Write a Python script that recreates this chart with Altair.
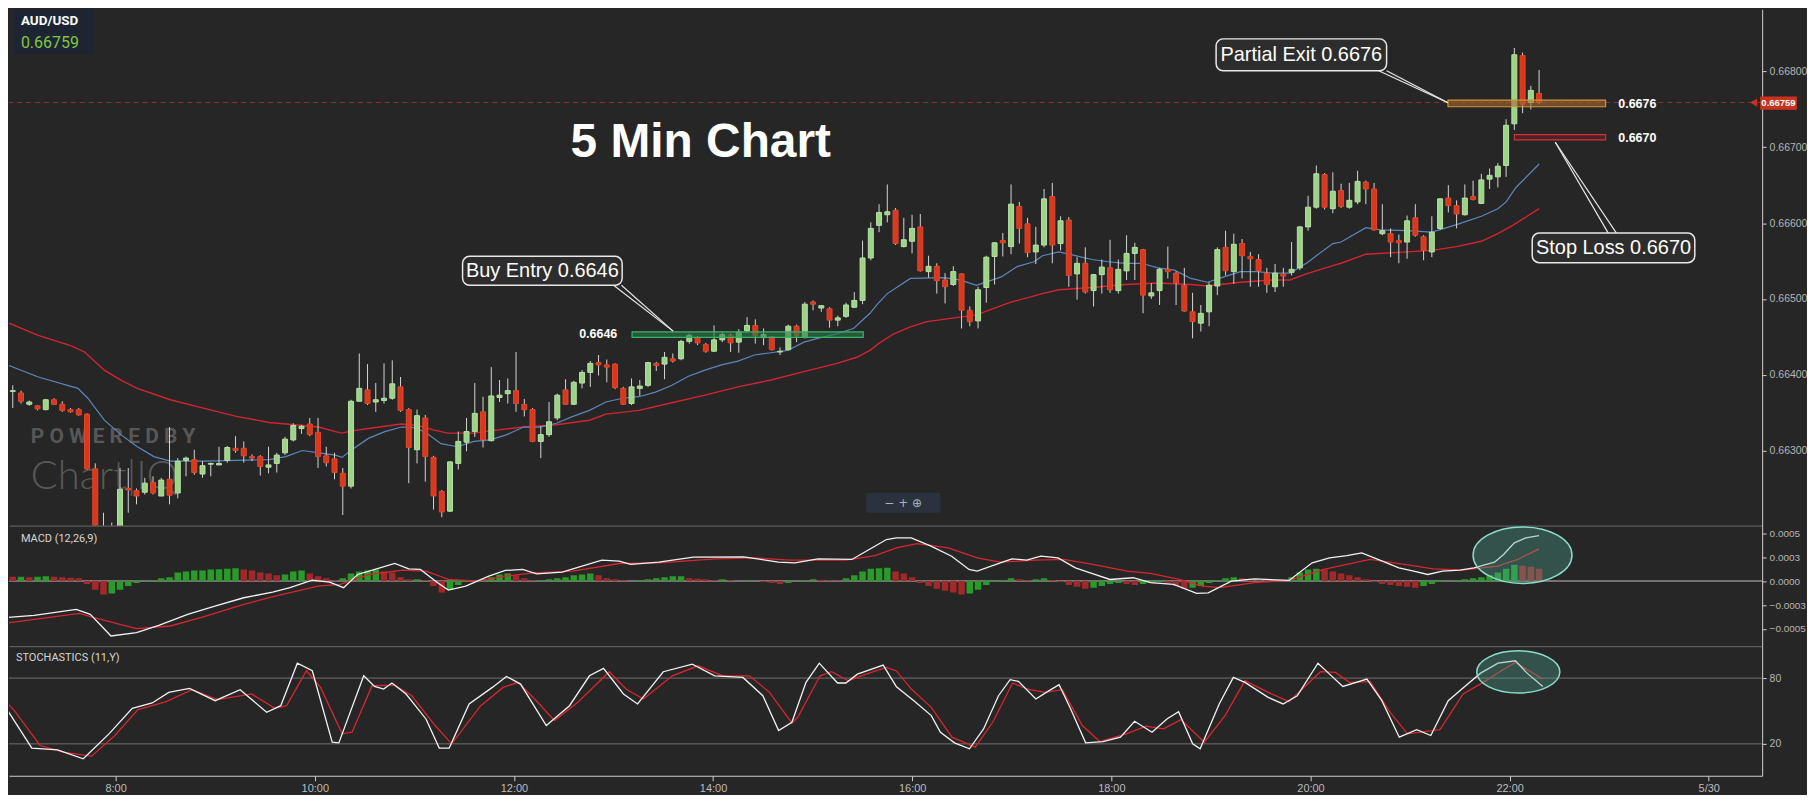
import altair as alt
import pandas as pd

# ---------------------------------------------------------------------------
# AUD/USD 5-minute candles, 29 May (first candle 06:50, one bar every 5 min)
# prices in points (1e-5)
# ---------------------------------------------------------------------------
FIRST_HOUR = 6 + 50 / 60
BAR_HOURS = 5 / 60

open_pts = [
    66362, 66378, 66376, 66361, 66359, 66354, 66367, 66361, 66354, 66354,
    66348, 66276, 66175, 66195, 66190, 66250, 66247, 66245, 66258, 66240,
    66262, 66244, 66287, 66288, 66269, 66282, 66281, 66287, 66303, 66303,
    66292, 66292, 66278, 66283, 66297, 66314, 66329, 66335, 66324, 66293,
    66289, 66270, 66253, 66365, 66380, 66364, 66366, 66369, 66384, 66354,
    66301, 66343, 66291, 66246, 66220, 66283, 66311, 66325, 66351, 66313,
    66370, 66375, 66379, 66361, 66354, 66312, 66321, 66343, 66380, 66361,
    66389, 66403, 66416, 66413, 66414, 66382, 66362, 66382, 66386, 66415,
    66414, 66421, 66421, 66444, 66449, 66440, 66431, 66446, 66452, 66443,
    66458, 66465, 66449, 66450, 66430, 66433, 66464, 66449, 66496, 66488,
    66487, 66472, 66477, 66489, 66498, 66554, 66597, 66611, 66617, 66569,
    66576, 66595, 66536, 66543, 66525, 66519, 66533, 66485, 66471, 66515,
    66556, 66577, 66569, 66622, 66599, 66562, 66571, 66635, 66573, 66604,
    66533, 66547, 66511, 66532, 66541, 66511, 66537, 66560, 66565, 66504,
    66511, 66539, 66534, 66518, 66483, 66468, 66483, 66517, 66568, 66536,
    66573, 66556, 66552, 66534, 66516, 66533, 66535, 66541, 66595, 66621,
    66664, 66619, 66643, 66621, 66628, 66654, 66645, 66586, 66586, 66577,
    66575, 66607, 66582, 66562, 66593, 66633, 66623, 66611, 66635, 66626,
    66658, 66661, 66676, 66731, 66821, 66759, 66771,
]
high_pts = [
    66384, 66386, 66379, 66366, 66360, 66368, 66369, 66365, 66356, 66356,
    66349, 66283, 66218, 66205, 66277, 66277, 66250, 66264, 66266, 66264,
    66331, 66290, 66292, 66301, 66286, 66284, 66305, 66306, 66319, 66312,
    66295, 66294, 66305, 66297, 66318, 66336, 66334, 66343, 66343, 66305,
    66297, 66277, 66367, 66428, 66414, 66389, 66415, 66419, 66397, 66356,
    66354, 66347, 66293, 66248, 66286, 66325, 66343, 66389, 66371, 66410,
    66393, 66395, 66430, 66368, 66356, 66332, 66364, 66375, 66394, 66392,
    66406, 66418, 66426, 66420, 66415, 66384, 66395, 66393, 66417, 66417,
    66430, 66428, 66446, 66454, 66451, 66442, 66465, 66456, 66454, 66460,
    66476, 66473, 66461, 66451, 66436, 66466, 66466, 66496, 66498, 66492,
    66489, 66478, 66495, 66509, 66577, 66601, 66625, 66651, 66620, 66607,
    66611, 66612, 66557, 66547, 66534, 66543, 66534, 66490, 66516, 66557,
    66575, 66587, 66651, 66628, 66607, 66595, 66645, 66653, 66609, 66608,
    66555, 66568, 66533, 66552, 66578, 66552, 66584, 66574, 66566, 66521,
    66541, 66569, 66536, 66541, 66508, 66492, 66522, 66568, 66590, 66586,
    66579, 66562, 66559, 66541, 66546, 66541, 66575, 66596, 66636, 66676,
    66666, 66667, 66652, 66653, 66669, 66656, 66653, 66625, 66593, 66585,
    66610, 66625, 66584, 66609, 66633, 66650, 66630, 66651, 66656, 66665,
    66672, 66679, 66737, 66831, 66825, 66781, 66802,
]
low_pts = [
    66356, 66356, 66362, 66359, 66353, 66353, 66360, 66351, 66350, 66346,
    66275, 66160, 66165, 66175, 66185, 66218, 66229, 66242, 66242, 66240,
    66229, 66237, 66266, 66268, 66264, 66266, 66281, 66284, 66297, 66284,
    66286, 66267, 66270, 66271, 66294, 66312, 66322, 66319, 66277, 66279,
    66262, 66215, 66250, 66365, 66360, 66351, 66362, 66367, 66351, 66257,
    66283, 66259, 66222, 66212, 66219, 66275, 66299, 66318, 66304, 66312,
    66364, 66362, 66351, 66345, 66311, 66290, 66318, 66340, 66360, 66360,
    66382, 66384, 66399, 66390, 66381, 66360, 66360, 66372, 66384, 66405,
    66394, 66416, 66419, 66441, 66439, 66429, 66430, 66443, 66430, 66429,
    66456, 66441, 66439, 66432, 66426, 66432, 66443, 66448, 66485, 66483,
    66462, 66464, 66475, 66488, 66493, 66551, 66588, 66601, 66571, 66568,
    66560, 66536, 66528, 66507, 66494, 66517, 66461, 66464, 66461, 66495,
    66519, 66556, 66559, 66573, 66555, 66546, 66568, 66547, 66564, 66516,
    66499, 66507, 66490, 66507, 66508, 66507, 66525, 66525, 66481, 66500,
    66492, 66527, 66492, 66483, 66448, 66457, 66464, 66505, 66531, 66520,
    66527, 66516, 66516, 66508, 66509, 66516, 66531, 66538, 66590, 66619,
    66618, 66613, 66620, 66619, 66625, 66625, 66590, 66584, 66555, 66547,
    66553, 66582, 66551, 66555, 66591, 66614, 66593, 66610, 66630, 66625,
    66645, 66647, 66661, 66723, 66745, 66750, 66757,
]
close_pts = [
    66379, 66379, 66365, 66364, 66355, 66367, 66361, 66353, 66351, 66347,
    66276, 66180, 66195, 66190, 66249, 66248, 66240, 66257, 66244, 66261,
    66241, 66286, 66290, 66271, 66280, 66283, 66283, 66304, 66300, 66293,
    66290, 66279, 66281, 66294, 66315, 66333, 66332, 66321, 66292, 66284,
    66271, 66253, 66365, 66382, 66362, 66367, 66369, 66388, 66353, 66304,
    66346, 66292, 66240, 66219, 66285, 66312, 66325, 66349, 66314, 66372,
    66373, 66379, 66362, 66354, 66312, 66321, 66338, 66373, 66361, 66390,
    66403, 66415, 66413, 66410, 66383, 66361, 66384, 66385, 66416, 66412,
    66423, 66418, 66444, 66452, 66442, 66431, 66446, 66453, 66442, 66456,
    66465, 66452, 66453, 66433, 66431, 66464, 66452, 66493, 66493, 66491,
    66472, 66475, 66492, 66498, 66554, 66593, 66614, 66615, 66573, 66578,
    66593, 66537, 66543, 66524, 66516, 66536, 66485, 66470, 66512, 66555,
    66574, 66574, 66625, 66593, 66561, 66571, 66632, 66571, 66603, 66531,
    66547, 66509, 66532, 66542, 66512, 66539, 66560, 66568, 66505, 66508,
    66539, 66536, 66521, 66484, 66470, 66481, 66518, 66565, 66537, 66572,
    66557, 66553, 66537, 66519, 66534, 66530, 66539, 66595, 66621, 66665,
    66621, 66642, 66622, 66630, 66655, 66645, 66591, 66590, 66575, 66574,
    66603, 66584, 66564, 66588, 66632, 66623, 66612, 66633, 66631, 66657,
    66663, 66675, 66729, 66822, 66757, 66775, 66759,
]

# moving averages: (bar index, price points)
ma_fast_bar = [0.1, 4.1, 8.9, 10.1, 12.1, 14.1, 16.1, 18.1, 20.1, 24.1, 28.1, 32.1, 34.1, 36.1,
               38.1, 40.1, 40.9, 42.1, 44.1, 46.1, 48.1, 49.3, 50.9, 52.9, 54.9, 56.9, 58.9,
               60.9, 62.9, 64.9, 66.9, 68.9, 70.9, 72.9, 74.9, 76.9, 78.9, 80.9, 82.9, 84.9,
               86.9, 88.9, 90.9, 92.9, 94.9, 96.9, 98.9, 100.9, 102.9, 104.9, 105.8, 107,
               109.8, 113.8, 115.8, 117.8, 120.8, 122.8, 124.8, 125.8, 127.8, 129.8, 131.8,
               133.8, 135.8, 137.8, 139.8, 141.8, 143.8, 145.8, 147.8, 149.8, 151.8, 153.8,
               155.8, 157.8, 159, 161, 162, 165, 166.8, 170, 173, 176, 179, 181, 182, 183.2, 186]
ma_fast_pts = [66414, 66397, 66382, 66369, 66340, 66321, 66305, 66292, 66286, 66286, 66287,
               66288, 66292, 66300, 66297, 66294, 66291, 66301, 66316, 66325, 66331, 66331,
               66325, 66309, 66305, 66312, 66314, 66321, 66331, 66331, 66336, 66345, 66353,
               66364, 66369, 66371, 66377, 66386, 66398, 66406, 66413, 66418, 66426, 66429,
               66432, 66443, 66449, 66454, 66461, 66481, 66493, 66507, 66527, 66528, 66525,
               66518, 66529, 66543, 66549, 66557, 66562, 66557, 66552, 66549, 66547, 66547,
               66541, 66538, 66527, 66522, 66529, 66536, 66536, 66534, 66534, 66547, 66557,
               66573, 66575, 66594, 66591, 66590, 66588, 66598, 66609, 66619, 66628, 66647, 66678]
ma_slow_bar = [0.1, 4.1, 8.1, 9.7, 12.1, 14.1, 16.1, 20.1, 24.1, 28.1, 32.1, 36.1, 38.1, 40.1,
               40.9, 42.1, 44.1, 48.1, 50.1, 52.1, 53.7, 55.3, 56.9, 58.9, 62.9, 66.9, 70.9,
               72.9, 76.9, 80.9, 84.9, 88.9, 92.9, 96.9, 100.9, 103.3, 104.9, 105.8, 107.8,
               109.8, 111.8, 115.8, 117.8, 121.8, 125.8, 127.8, 131.8, 135.8, 139.8, 143.8,
               145.8, 149.8, 153.8, 155.8, 157.8, 161, 162, 165, 170, 173, 176, 179, 181, 182.8, 186]
ma_slow_pts = [66470, 66452, 66438, 66430, 66406, 66393, 66382, 66367, 66356, 66345, 66337,
               66333, 66331, 66325, 66323, 66326, 66329, 66335, 66333, 66327, 66323, 66323,
               66323, 66326, 66331, 66334, 66340, 66348, 66353, 66363, 66373, 66384, 66393,
               66404, 66415, 66423, 66432, 66440, 66454, 66463, 66470, 66476, 66479, 66495,
               66507, 66512, 66515, 66519, 66521, 66519, 66517, 66522, 66525, 66525, 66533,
               66544, 66547, 66559, 66562, 66564, 66569, 66576, 66586, 66597, 66619]

# MACD (12,26,9), values in 1e-4
macd_bar = [0.1, 3.6, 8.7, 10.4, 12.9, 16.0, 18.7, 22.2, 25.6, 29.0, 32.5, 34.6, 37.3, 39.4, 41.1,
            42.8, 44.9, 47.3, 49.0, 50.4, 52.5, 53.8, 55.9, 58.7, 60.7, 62.8, 64.5, 67.6, 72.4,
            74.5, 75.9, 79.3, 83.5, 89.6, 93.8, 95.8, 98.6, 102.7, 104.8, 106.9, 108.1, 109.9,
            112.3, 114.8, 116.9, 117.9, 120.7, 122.1, 123.9, 125.6, 127.7, 129.8, 131.6, 134.0,
            136.8, 138.9, 141.7, 144.5, 145.9, 148.7, 151.5, 155.7, 158.5, 160.6, 162.7, 164.5,
            167.0, 169.0, 170.8, 172.5, 174.3, 176.4, 178.1, 180.6, 181.7, 183.0, 184.4, 186]
macd_val = [-3.82, -3.58, -2.95, -3.47, -5.73, -5.38, -4.62, -3.47, -2.60, -1.74, -1.15, -0.69,
            0.10, -0.10, -0.69, 0.69, 1.22, 1.84, 1.28, 1.22, -0.17, -0.94, -0.52, 0.52, 1.11,
            1.22, 0.76, 0.94, 2.19, 2.08, 1.74, 1.98, 2.50, 2.53, 1.98, 1.91, 2.33, 2.26, 3.30,
            4.34, 4.51, 4.51, 3.65, 2.60, 1.22, 1.04, 1.91, 2.33, 2.19, 2.60, 2.43, 1.39, 0.87,
            0.17, 0.35, -0.17, -0.35, -1.28, -1.22, 0.0, 0.24, 0.07, 1.91, 2.43, 2.67, 2.95,
            2.08, 1.39, 1.04, 0.69, 1.04, 1.15, 1.39, 1.98, 2.78, 3.99, 4.51, 4.76]
signal_bar = [0.1, 9.1, 10.4, 16.0, 20.1, 24.2, 29.0, 33.2, 38.0, 40.7, 44.2, 48.3, 51.1, 53.8,
              57.3, 60.7, 64.1, 68.9, 74.5, 79.3, 86.2, 91.0, 95.2, 102.0, 105.5, 108.1, 110.6,
              114.4, 117.9, 120.7, 124.9, 128.4, 131.9, 136.1, 138.9, 142.4, 145.2, 147.3, 151.5,
              155.7, 159.9, 165.5, 169.7, 173.2, 176.7, 181.0, 183.4, 186]
signal_val = [-4.41, -3.37, -3.72, -4.97, -4.69, -3.72, -2.43, -1.49, -0.52, -0.35, 0.69, 1.15,
              1.04, 0.17, 0.0, 0.52, 0.87, 1.04, 1.84, 1.91, 2.33, 2.43, 2.19, 2.19, 2.67, 3.47,
              3.92, 3.47, 2.43, 1.98, 2.19, 2.26, 1.74, 1.04, 0.80, 0.17, -0.52, -0.69, -0.17,
              0.07, 1.22, 2.26, 1.74, 1.28, 1.15, 1.56, 2.26, 3.37]
hist_val = [
    0.5, 0.45, 0.45, 0.4, 0.45, 0.5, 0.45, 0.4, 0.35, 0.3,
    -0.3, -0.9, -1.4, -1.3, -0.9, -0.5, -0.2, 0.0, 0.1, 0.3,
    0.4, 0.9, 1.0, 1.1, 1.1, 1.2, 1.25, 1.3, 1.35, 1.2,
    1.1, 0.9, 0.8, 0.6, 0.7, 1.0, 1.1, 0.8, 0.5, 0.3,
    0.1, 0.3, 0.8, 1.0, 1.1, 1.2, 1.0, 0.9, 0.4, 0.2,
    0.2, 0.1, -0.5, -1.2, -0.9, -0.4, -0.1, 0.0, 0.2, 0.4,
    0.7, 0.8, 0.6, 0.3, 0.1, 0.1, 0.2, 0.3, 0.4, 0.6,
    0.7, 0.8, 0.6, 0.3, 0.2, 0.1, 0.0, 0.1, 0.2, 0.3,
    0.4, 0.5, 0.5, 0.3, 0.25, 0.2, 0.1, 0.2, 0.1, 0.0,
    0.05, 0.0, -0.1, -0.2, -0.3, -0.2, 0.0, 0.1, 0.2, 0.15,
    0.1, 0.05, 0.3, 0.6, 1.0, 1.3, 1.35, 1.4, 1.0, 0.8,
    0.4, -0.2, -0.5, -0.8, -1.0, -1.2, -1.4, -1.3, -0.9, -0.4,
    -0.1, 0.1, 0.3, 0.2, 0.1, 0.2, 0.3, 0.1, -0.1, -0.4,
    -0.6, -0.8, -0.7, -0.5, -0.3, -0.2, -0.3, -0.4, -0.3, -0.2,
    -0.1, -0.2, -0.5, -0.8, -0.7, -0.5, -0.2, 0.1, 0.3, 0.4,
    0.3, 0.2, 0.1, 0.05, 0.0, 0.05, 0.4, 0.9, 1.2, 1.3,
    1.2, 1.0, 0.8, 0.6, 0.4, 0.2, -0.1, -0.3, -0.4, -0.5,
    -0.6, -0.7, -0.5, -0.3, -0.1, 0.0, 0.1, 0.2, 0.3, 0.4,
    0.6, 0.9, 1.3, 1.7, 1.6, 1.5, 1.3,
]

# Stochastics (11,Y)
stk_bar = [0.1, 3.9, 7.0, 10.1, 13.2, 16.0, 18.4, 20.4, 22.9, 26.0, 29.0, 32.2, 33.9, 35.9, 37.7,
           40.1, 40.9, 43.9, 45.2, 46.3, 47.3, 49.0, 51.4, 53.0, 54.2, 56.6, 59.4, 61.1, 62.8,
           65.9, 68.7, 71.1, 72.8, 75.2, 76.9, 80.0, 83.5, 86.2, 89.6, 92.0, 93.9, 95.5, 97.2,
           98.8, 101.0, 102.0, 103.4, 106.5, 108.1, 110.2, 112.3, 113.4, 115.1, 116.9, 118.6,
           120.4, 121.8, 122.8, 124.9, 126.3, 127.7, 129.1, 130.9, 133.0, 135.1, 136.8, 138.9,
           140.7, 142.1, 143.8, 144.7, 147.0, 148.7, 150.1, 152.9, 154.7, 156.4, 158.9, 160.3,
           161.9, 164.8, 166.6, 168.7, 170.8, 172.5, 174.6, 176.7, 178.5, 180.6, 182.7, 184.1, 186]
stk_val = [60.9, 16.1, 14.5, 6.4, 29.1, 52.4, 57.3, 67.0, 70.6, 59.4, 69.4, 48.8, 54.8, 93.6,
           86.7, 21.5, 20.9, 82.1, 72.4, 70.0, 75.5, 65.5, 42.7, 16.1, 16.1, 56.4, 71.5, 81.5,
           74.5, 36.7, 54.8, 82.1, 88.8, 65.5, 56.4, 85.8, 92.7, 82.1, 80.6, 63.9, 32.1, 39.7,
           76.1, 93.6, 75.5, 75.5, 83.6, 91.8, 72.0, 59.4, 45.8, 30.6, 20.9, 15.5, 33.6, 63.9,
           78.5, 77.0, 60.9, 67.6, 73.9, 51.8, 20.9, 22.1, 26.1, 40.6, 30.6, 42.7, 49.4, 20.0,
           15.5, 56.4, 80.6, 76.1, 62.4, 56.4, 63.9, 93.6, 83.6, 72.4, 79.1, 59.4, 26.1, 33.0,
           27.6, 59.4, 73.0, 84.5, 93.6, 95.8, 84.5, 72.4]
std_bar = [0.1, 1.8, 4.9, 7.7, 11.1, 13.9, 16.7, 20.1, 23.2, 26.3, 30.4, 33.2, 34.6, 37.0, 38.7,
           41.3, 42.5, 44.9, 47.6, 49.7, 52.5, 54.5, 58.0, 60.7, 62.5, 64.5, 66.9, 69.7, 73.5,
           75.5, 77.6, 81.1, 84.2, 87.2, 90.4, 92.8, 95.5, 96.2, 98.9, 100.3, 102.3, 104.8,
           106.9, 108.1, 109.9, 112.3, 114.8, 117.6, 119.7, 122.1, 123.9, 126.0, 128.1, 130.5,
           132.6, 135.8, 138.2, 140.3, 142.4, 145.2, 147.7, 150.1, 152.9, 155.4, 159.2, 161.0,
           162.7, 165.2, 167.6, 169.7, 173.6, 176.4, 178.8, 181.0, 182.7, 186]
std_val = [63.9, 50.3, 18.5, 12.4, 8.8, 27.6, 51.2, 58.5, 69.4, 60.3, 65.5, 52.4, 54.8, 86.7,
           71.5, 29.1, 30.6, 73.0, 73.6, 63.9, 36.7, 20.0, 54.8, 71.5, 76.1, 60.9, 41.2, 57.9,
           85.8, 70.0, 60.9, 82.1, 91.2, 82.1, 82.1, 67.0, 39.1, 44.2, 82.1, 85.8, 77.6, 84.5,
           89.7, 86.5, 70.0, 53.3, 26.1, 17.0, 39.7, 75.5, 70.0, 67.0, 69.4, 36.7, 22.1, 29.1,
           36.1, 33.6, 42.1, 21.5, 45.8, 77.6, 67.0, 58.5, 85.8, 85.2, 76.1, 76.7, 48.8, 29.1,
           33.0, 65.5, 76.1, 86.7, 94.2, 79.1]

# ----------------------------- annotations ---------------------------------
last_price = 0.66759
level_label = ["0.6646", "0.6676", "0.6670"]
level_t1 = [13.172, 21.413, 22.084]
level_t2 = [15.507, 23.005, 23.005]
level_p1 = [0.664566, 0.667623, 0.667167]
level_p2 = [0.664492, 0.667535, 0.667097]
level_label_t = [12.83, 23.325, 23.325]
level_label_p = [0.664535, 0.667575, 0.667127]

callout_text = ["Buy Entry 0.6646", "Partial Exit 0.6676", "Stop Loss 0.6670"]
callout_t1 = [11.460, 19.071, 22.264]
callout_t2 = [13.072, 20.793, 23.906]
callout_p1 = [0.665562, 0.668430, 0.665868]
callout_p2 = [0.665180, 0.668009, 0.665478]
tail_base_ta = [12.985, 20.713, 23.032]
tail_base_tb = [13.065, 20.793, 23.115]
tail_base_p = [0.665180, 0.668009, 0.665868]
tail_tip_t = [13.586, 21.413, 22.497]
tail_tip_p = [0.664575, 0.667588, 0.667066]

# ------------------------------- styling -----------------------------------
CANDLE_FILL = {"up": "#9dd389", "down": "#d8381d"}
CANDLE_EDGE = {"up": "#b5e2a3", "down": "#e2472a"}
HIST_FILL = {"up": "#2a9a2a", "down": "#a3282a"}
LEVEL_FILL = ["#2a7a48", "#a5692a", "#6e1d22"]
LEVEL_EDGE = ["#38b568", "#d4923f", "#d2313a"]

# ----------------------------- data frames ---------------------------------
n = len(open_pts)
cdf = pd.DataFrame({
    "t": [FIRST_HOUR + i * BAR_HOURS for i in range(n)],
    "o": [v / 1e5 for v in open_pts],
    "h": [v / 1e5 for v in high_pts],
    "l": [v / 1e5 for v in low_pts],
    "c": [v / 1e5 for v in close_pts],
})
cdir = ["up" if c >= o else "down" for o, c in zip(open_pts, close_pts)]
cdf["fill"] = [CANDLE_FILL[d] for d in cdir]
cdf["edge"] = [CANDLE_EDGE[d] for d in cdir]


def series(bars, vals, scale=1.0):
    return pd.DataFrame({"t": [FIRST_HOUR + b * BAR_HOURS for b in bars],
                         "p": [v * scale for v in vals]})


fast_df = series(ma_fast_bar, ma_fast_pts, 1e-5)
slow_df = series(ma_slow_bar, ma_slow_pts, 1e-5)
macd_df = series(macd_bar, macd_val)
sig_df = series(signal_bar, signal_val)
stk_df = series(stk_bar, stk_val)
std_df = series(std_bar, std_val)
hdir = ["up" if i == 0 or hist_val[i] >= hist_val[i - 1] else "down" for i in range(len(hist_val))]
hist_df = pd.DataFrame({
    "t": [FIRST_HOUR + i * BAR_HOURS for i in range(len(hist_val))],
    "p": hist_val,
    "fill": [HIST_FILL[d] for d in hdir],
})

lvl_df = pd.DataFrame({"t": level_t1, "t2": level_t2, "p": level_p1, "p2": level_p2,
                       "fill": LEVEL_FILL, "edge": LEVEL_EDGE,
                       "lt": level_label_t, "lp": level_label_p, "label": level_label})
co_df = pd.DataFrame({"t": callout_t1, "t2": callout_t2, "p": callout_p1, "p2": callout_p2,
                      "text": callout_text,
                      "tc": [(a + b) / 2 for a, b in zip(callout_t1, callout_t2)],
                      "pc": [(a + b) / 2 for a, b in zip(callout_p1, callout_p2)]})
tail_df = pd.DataFrame({"t": tail_base_ta + tail_base_tb, "p": tail_base_p + tail_base_p,
                        "t2": tail_tip_t + tail_tip_t, "p2": tail_tip_p + tail_tip_p})

# ------------------------------ scales/axes --------------------------------
FONT = "Liberation Sans"
XS = alt.Scale(domain=[6.929, 24.536], nice=False, zero=False)
YS_MAIN = alt.Scale(domain=[0.66201, 0.66882], nice=False, zero=False)
YS_MACD = alt.Scale(domain=[-6.8, 5.8], nice=False, zero=False)
YS_STO = alt.Scale(domain=[-9.1, 109.1], nice=False, zero=False)

X_AX_HIDDEN = alt.Axis(orient="bottom", labels=False, ticks=False, grid=False, title=None,
                       domainColor="#6a6a6a", domainWidth=1)
X_AX_BOTTOM = alt.Axis(orient="bottom", values=[8, 10, 12, 14, 16, 18, 20, 22, 24],
                       labelExpr="datum.value == 24 ? '5/30' : datum.value + ':00'",
                       grid=False, title=None, domainColor="#cfcfcf", tickColor="#cfcfcf",
                       tickSize=5, labelPadding=2, labelColor="#bdbdbd", labelFontSize=11,
                       labelFont=FONT)
Y_AX_MAIN = alt.Axis(orient="right", values=[0.663, 0.664, 0.665, 0.666, 0.667, 0.668],
                     format=".5f", grid=False, title=None, domainColor="#cfcfcf",
                     tickColor="#cfcfcf", tickSize=4, labelPadding=3, labelColor="#b5b5b5",
                     labelFontSize=10.5, labelFont=FONT)
Y_AX_MACD = alt.Axis(orient="right", values=[5, 2.5, 0, -2.5, -5],
                     labelExpr="format(datum.value / 10000, '.4f')", grid=False, title=None,
                     domainColor="#cfcfcf", tickColor="#cfcfcf", tickSize=4, labelPadding=3,
                     labelColor="#b5b5b5", labelFontSize=10, labelFont=FONT)
Y_AX_STO = alt.Axis(orient="right", values=[20, 80], format="d", grid=False, title=None,
                    domainColor="#cfcfcf", tickColor="#cfcfcf", tickSize=4, labelPadding=3,
                    labelColor="#b5b5b5", labelFontSize=10.5, labelFont=FONT)


def MX(f="t"):
    return alt.X(f"{f}:Q", scale=XS, axis=X_AX_HIDDEN)


def MY(f="p"):
    return alt.Y(f"{f}:Q", scale=YS_MAIN, axis=Y_AX_MAIN, stack=None)


def pts(**kw):
    return pd.DataFrame(kw)


# ------------------------------- main panel --------------------------------
wicks = alt.Chart(cdf).mark_rule(color="#d4d4d4", strokeWidth=1, clip=True).encode(
    x=MX(), y=MY("l"), y2="h:Q")
bodies = alt.Chart(cdf).mark_bar(size=5, clip=True, strokeWidth=1).encode(
    x=MX(), y=MY("o"), y2="c:Q",
    fill=alt.Fill("fill:N", scale=None), stroke=alt.Stroke("edge:N", scale=None))
fast_line = alt.Chart(fast_df).mark_line(color="#5b87bd", strokeWidth=1.2, clip=True).encode(x=MX(), y=MY())
slow_line = alt.Chart(slow_df).mark_line(color="#d42430", strokeWidth=1.4, clip=True).encode(x=MX(), y=MY())

price_line = alt.Chart(pts(p=[last_price])).mark_rule(
    color="#8a3434", strokeDash=[5, 4], strokeWidth=1).encode(y=MY())

level_boxes = alt.Chart(lvl_df).mark_rect(strokeWidth=1.2, fillOpacity=0.6, strokeOpacity=1).encode(
    x=MX(), x2="t2:Q", y=MY(), y2="p2:Q",
    fill=alt.Fill("fill:N", scale=None), stroke=alt.Stroke("edge:N", scale=None))
level_text = alt.Chart(lvl_df).mark_text(font=FONT, fontSize=12.5, fontWeight="bold", color="#ffffff").encode(
    x=MX("lt"), y=MY("lp"), text="label:N")

tails = alt.Chart(tail_df).mark_rule(color="#e6e6e6", strokeWidth=1.2).encode(
    x=MX(), x2="t2:Q", y=MY(), y2="p2:Q")
callouts = alt.Chart(co_df).mark_rect(cornerRadius=7, fill="#2d2d2d", fillOpacity=0.95,
                                      stroke="#e8e8e8", strokeWidth=1.5).encode(
    x=MX(), x2="t2:Q", y=MY(), y2="p2:Q")
callout_text_l = alt.Chart(co_df).mark_text(font=FONT, fontSize=20, color="#ffffff").encode(
    x=MX("tc"), y=MY("pc"), text="text:N")

title_txt = alt.Chart(pts(t=[13.866], p=[0.666868], s=["5 Min Chart"])).mark_text(
    font=FONT, fontSize=48, fontWeight="bold", color="#ffffff", baseline="alphabetic").encode(
    x=MX(), y=MY(), text="s:N")

sym_box = alt.Chart(pts(t=[6.929], t2=[7.73], p=[0.66882], p2=[0.668233])).mark_rect(
    fill="#1d2533").encode(x=MX(), x2="t2:Q", y=MY(), y2="p2:Q")
sym_txt = alt.Chart(pts(t=[6.999], p=[0.668667], s=["AUD/USD"])).mark_text(
    font="Roboto", fontSize=13.5, fontWeight="bold", color="#ffffff", align="left").encode(
    x=MX(), y=MY(), text="s:N")
sym_px = alt.Chart(pts(t=[6.999], p=[0.668377], s=["0.66759"])).mark_text(
    font="Roboto", fontSize=16, color="#86c440", align="left").encode(
    x=MX(), y=MY(), text="s:N")

wm1 = alt.Chart(pts(t=[7.099], p=[0.663101], s=["P O W E R E D  B Y"])).mark_text(
    font="Roboto", fontSize=21, fontWeight="bold", color="#575757", align="left",
    baseline="alphabetic").encode(x=MX(), y=MY(), text="s:N")
wm2 = alt.Chart(pts(t=[7.099], p=[0.662496], s=["Chart|IQ"])).mark_text(
    font="Lato", fontSize=40, fontWeight=300, color="#585858", align="left",
    baseline="alphabetic").encode(x=MX(), y=MY(), text="s:N")

zoom_box = alt.Chart(pts(t=[15.537], t2=[16.288], p=[0.662443], p2=[0.66218])).mark_rect(
    fill="#2a323d", cornerRadius=2).encode(x=MX(), x2="t2:Q", y=MY(), y2="p2:Q")
zoom_txt = alt.Chart(pts(t=[15.91], p=[0.662312], s=["−   +   ⊕"])).mark_text(
    font="DejaVu Sans", fontSize=12, color="#aab2bc").encode(x=MX(), y=MY(), text="s:N")

tag_box = alt.Chart(pts(t=[24.566], t2=[24.937], p=[0.667671], p2=[0.667496])).mark_rect(
    fill="#c8321f").encode(x=MX(), x2="t2:Q", y=MY(), y2="p2:Q")
tag_arrow = alt.Chart(pts(t=[24.5], p=[last_price])).mark_point(
    shape="triangle-left", size=70, filled=True, fill="#c8321f", opacity=1).encode(x=MX(), y=MY())
tag_txt = alt.Chart(pts(t=[24.751], p=[last_price], s=["0.66759"])).mark_text(
    font=FONT, fontSize=9.5, fontWeight="bold", color="#ffffff").encode(x=MX(), y=MY(), text="s:N")

main = alt.layer(
    wm1, wm2, slow_line, fast_line, price_line, wicks, bodies, level_boxes, level_text,
    tails, callouts, callout_text_l, title_txt, sym_box, sym_txt, sym_px,
    zoom_box, zoom_txt, tag_box, tag_arrow, tag_txt,
).properties(width=1759, height=518)


# ------------------------------- MACD panel --------------------------------
def AX(f="t"):
    return alt.X(f"{f}:Q", scale=XS, axis=X_AX_HIDDEN)


def AY(f="p"):
    return alt.Y(f"{f}:Q", scale=YS_MACD, axis=Y_AX_MACD, stack=None)


zero_rule = alt.Chart(pts(p=[0.0])).mark_rule(color="#8c8c8c", strokeWidth=1.5).encode(y=AY())
hist = alt.Chart(hist_df).mark_bar(size=6.5, clip=True).encode(
    x=AX(), y=AY(), y2=alt.datum(0), fill=alt.Fill("fill:N", scale=None))
macd_line = alt.Chart(macd_df).mark_line(color="#f2f2f2", strokeWidth=1.3, clip=True).encode(x=AX(), y=AY())
sig_line = alt.Chart(sig_df).mark_line(color="#d8262e", strokeWidth=1.3, clip=True).encode(x=AX(), y=AY())
macd_title = alt.Chart(pts(t=[6.999], p=[4.4], s=["MACD (12,26,9)"])).mark_text(
    font="Roboto", fontSize=11, color="#d6d6d6", align="left").encode(x=AX(), y=AY(), text="s:N")
ell1 = alt.Chart(pts(t=[22.166], p=[2.71])).mark_point(
    shape="M-1,0A1,0.572,0,1,1,1,0A1,0.572,0,1,1,-1,0Z", size=9841, filled=True,
    fill="#4fa596", fillOpacity=0.35, stroke="#8adccb", strokeWidth=1.5, strokeOpacity=1,
    opacity=1).encode(x=AX(), y=AY())

macd = alt.layer(zero_rule, hist, sig_line, macd_line, macd_title, ell1).properties(width=1759, height=121)


# ---------------------------- Stochastics panel ----------------------------
def SX(f="t"):
    return alt.X(f"{f}:Q", scale=XS, axis=X_AX_BOTTOM)


def SY(f="p"):
    return alt.Y(f"{f}:Q", scale=YS_STO, axis=Y_AX_STO, stack=None)


sto_rules = alt.Chart(pts(p=[20.0, 80.0])).mark_rule(color="#6f6f6f", strokeWidth=1).encode(y=SY())
std_line = alt.Chart(std_df).mark_line(color="#d8262e", strokeWidth=1.3, clip=True).encode(x=SX(), y=SY())
stk_line = alt.Chart(stk_df).mark_line(color="#f2f2f2", strokeWidth=1.3, clip=True).encode(x=SX(), y=SY())
sto_title = alt.Chart(pts(t=[6.999], p=[97.9], s=["STOCHASTICS (11,Y)"])).mark_text(
    font="Roboto", fontSize=11, color="#d6d6d6", align="left").encode(x=SX(), y=SY(), text="s:N")
ell2 = alt.Chart(pts(t=[22.087], p=[85.6])).mark_point(
    shape="M-1,0A1,0.507,0,1,1,1,0A1,0.507,0,1,1,-1,0Z", size=6956, filled=True,
    fill="#4fa596", fillOpacity=0.35, stroke="#8adccb", strokeWidth=1.5, strokeOpacity=1,
    opacity=1).encode(x=SX(), y=SY())

sto = alt.layer(sto_rules, std_line, stk_line, sto_title, ell2).properties(width=1759, height=130)

chart = alt.vconcat(main, macd, sto, spacing=0, bounds="flush").properties(
    background="#262626", padding=0
).configure_view(strokeWidth=0)

chart.save("out.html", embed_options={"renderer": "svg", "actions": False})
